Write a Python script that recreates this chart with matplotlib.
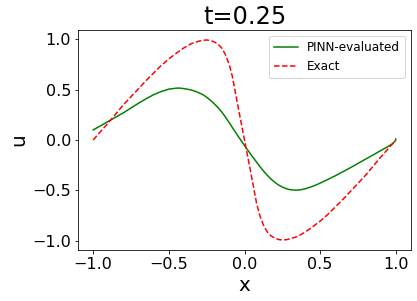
import matplotlib
matplotlib.use("Agg")
import matplotlib.pyplot as plt

# Exact solution
x_exact = [-1.0, -0.95, -0.9, -0.85, -0.8, -0.75, -0.7, -0.65, -0.6, -0.55, -0.5,
           -0.45, -0.4, -0.35, -0.3, -0.275, -0.25, -0.225, -0.2, -0.175, -0.15,
           -0.125, -0.1, -0.08, -0.06, -0.04, -0.02, 0.0, 0.02, 0.04, 0.06, 0.08,
           0.1, 0.125, 0.15, 0.175, 0.2, 0.225, 0.25, 0.275, 0.3, 0.35, 0.4, 0.45,
           0.5, 0.55, 0.6, 0.65, 0.7, 0.75, 0.8, 0.85, 0.9, 0.95, 1.0]
u_exact = [0.0, 0.085, 0.17, 0.26, 0.35, 0.43, 0.51, 0.59, 0.665, 0.74, 0.805,
           0.862, 0.915, 0.958, 0.982, 0.99, 0.993, 0.988, 0.974, 0.952, 0.912,
           0.845, 0.745, 0.63, 0.47, 0.31, 0.155, 0.0, -0.155, -0.31, -0.47, -0.63,
           -0.745, -0.845, -0.912, -0.952, -0.974, -0.988, -0.993, -0.99, -0.982,
           -0.958, -0.915, -0.862, -0.805, -0.74, -0.665, -0.59, -0.51, -0.43,
           -0.35, -0.26, -0.17, -0.085, 0.0]

# PINN prediction
x_pinn = [-1.0, -0.95, -0.9, -0.85, -0.8, -0.75, -0.7, -0.65, -0.6, -0.55, -0.5,
          -0.45, -0.425, -0.4, -0.375, -0.35, -0.325, -0.3, -0.275, -0.25, -0.225,
          -0.2, -0.175, -0.15, -0.125, -0.1, -0.075, -0.05, -0.025, 0.0, 0.025,
          0.05, 0.075, 0.1, 0.125, 0.15, 0.175, 0.2, 0.225, 0.25, 0.275, 0.3,
          0.325, 0.35, 0.375, 0.4, 0.425, 0.45, 0.475, 0.5, 0.55, 0.6, 0.65, 0.7,
          0.75, 0.8, 0.85, 0.9, 0.95, 0.98, 0.995, 1.0]
u_pinn = [0.10, 0.142, 0.185, 0.228, 0.27, 0.318, 0.365, 0.41, 0.45, 0.482, 0.505,
          0.515, 0.515, 0.51, 0.504, 0.495, 0.484, 0.468, 0.45, 0.425, 0.395,
          0.36, 0.322, 0.278, 0.226, 0.17, 0.112, 0.055, 0.0, -0.055, -0.108,
          -0.16, -0.21, -0.26, -0.307, -0.35, -0.388, -0.42, -0.447, -0.468,
          -0.483, -0.493, -0.497, -0.498, -0.493, -0.485, -0.473, -0.46, -0.445,
          -0.428, -0.392, -0.355, -0.315, -0.275, -0.232, -0.19, -0.148, -0.105,
          -0.063, -0.035, -0.01, 0.01]

fig = plt.figure(figsize=(417/72, 301/72), dpi=72)
ax = fig.add_axes([78/417, 1-250/301, (411-78)/417, (250-30)/301])
ax.plot(x_pinn, u_pinn, 'g-', label='PINN-evaluated')
ax.plot(x_exact, u_exact, 'r--', label='Exact')
ax.set_title('t=0.25', fontsize=24)
ax.set_xlabel('x', fontsize=20)
ax.set_ylabel('u', fontsize=20)
ax.tick_params(labelsize=16)
ax.legend(fontsize=12, loc='upper right')
fig.savefig('out.png', dpi=72)
